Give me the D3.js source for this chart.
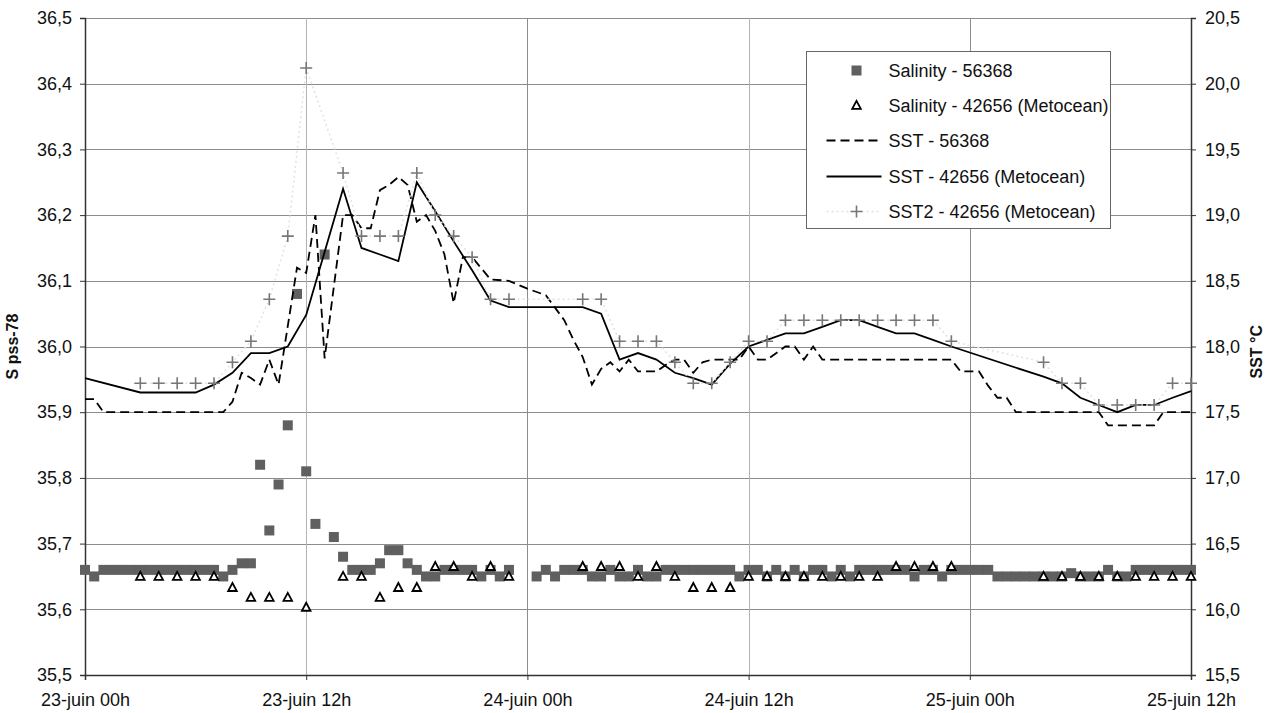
<!DOCTYPE html>
<html>
<head>
<meta charset="utf-8">
<script src="https://cdn.jsdelivr.net/npm/d3@7"></script>
<style>
  body { margin: 0; background: #fff; }
  svg { font-family: "Liberation Sans", Arial, Helvetica, sans-serif; }
</style>
</head>
<body>
<script>
// ---- data (hours counted from 23-juin 00h) ----

// Salinity - 56368, one value every 30 minutes, 00h .. 60h (null = missing)
var sal56368 = [
  35.66,35.65,35.66,35.66,35.66,35.66,35.66,35.66,35.66,35.66,35.66,35.66, // 00h-05h30
  35.66,35.66,35.66,35.65,35.66,35.67,35.67,35.82,35.72,35.79,35.88,36.08, // 06h-11h30
  35.81,35.73,36.14,35.71,35.68,35.66,35.66,35.66,35.67,35.69,35.69,35.67, // 12h-17h30
  35.66,35.65,35.65,35.66,35.66,35.66,35.66,35.65,35.66,35.65,35.66,null,  // 18h-23h30
  null, 35.65,35.66,35.65,35.66,35.66,35.66,35.65,35.65,35.66,35.65,35.65, // 24h-29h30
  35.66,35.65,35.65,35.66,35.66,35.66,35.66,35.66,35.66,35.66,35.66,35.65, // 30h-35h30
  35.66,35.66,35.65,35.66,35.65,35.66,35.65,35.66,35.66,35.65,35.66,35.65, // 36h-41h30
  35.66,35.66,35.66,35.66,35.66,35.66,35.65,35.66,35.66,35.65,35.66,35.66, // 42h-47h30
  35.66,35.66,35.66,35.65,35.65,35.65,35.65,35.65,35.65,35.65,35.65,35.655,// 48h-53h30
  35.65,35.65,35.65,35.66,35.65,35.65,35.66,35.66,35.66,35.66,35.66,35.66, // 54h-59h30
  35.66                                                                    // 60h
];

// Salinity - 42656 (Metocean), hourly with gaps
var sal42656Hours = [3,4,5,6,7,8,9,10,11,12,14,15,16,17,18,19,20,21,22,23,
  27,28,29,30,31,32,33,34,35,36,37,38,39,40,41,42,43,44,45,46,47,
  52,53,54,55,56,57,58,59,60];
var sal42656 = [35.65,35.65,35.65,35.65,35.65,35.633,35.618,35.618,35.618,35.603,
  35.65,35.65,35.618,35.633,35.633,35.665,35.665,35.65,35.665,35.65,
  35.665,35.665,35.665,35.65,35.665,35.65,35.633,35.633,35.633,35.65,35.65,35.65,35.65,35.65,35.65,35.65,35.65,
  35.665,35.665,35.665,35.665,
  35.65,35.65,35.65,35.65,35.65,35.65,35.65,35.65,35.65];

// SST - 56368 (dashed)
var sst56368Hours = [0,0.5,1,7.5,8,8.5,9,9.5,10,10.5,11.5,12,12.5,13,14,14.5,15,15.5,16,16.5,17,17.5,18,18.5,19,19.5,20,20.5,21,22,23,
  24,25,26,26.5,27,27.5,28,28.5,29,29.5,30,31,31.5,32,32.5,33,33.5,34,35.5,36,36.5,37,38,38.5,39,39.5,40,
  47,47.5,48.5,49,49.5,50,50.5,55,55.5,58,58.5,60];
var sst56368 = [17.60,17.60,17.50,17.50,17.58,17.80,17.76,17.71,17.90,17.71,18.60,18.56,19.00,17.91,19.00,19.00,18.90,18.90,19.19,19.23,19.29,19.23,18.95,19.00,18.88,18.70,18.33,18.68,18.68,18.51,18.50,
  18.44,18.39,18.20,18.05,17.92,17.71,17.83,17.88,17.81,17.90,17.81,17.81,17.86,17.90,17.90,17.80,17.88,17.90,17.90,18.00,17.90,17.90,18.00,18.00,17.90,18.00,17.90,
  17.90,17.81,17.81,17.70,17.61,17.61,17.50,17.50,17.40,17.40,17.50,17.50];

// SST - 42656 (Metocean) (solid)
var sst42656Hours = [0,3,4,5,6,7,8,9,10,11,12,14,15,16,17,18,19,20,21,22,23,
  27,28,29,30,31,32,33,34,35,36,37,38,39,40,41,42,43,44,45,46,47,
  52,53,54,55,56,57,58,59,60];
var sst42656 = [17.76,17.65,17.65,17.65,17.65,17.71,17.80,17.95,17.95,18.00,18.24,19.20,18.75,18.70,18.65,19.25,19.03,18.80,18.58,18.35,18.30,
  18.30,18.25,17.90,17.95,17.90,17.80,17.76,17.71,17.87,18.00,18.05,18.10,18.10,18.15,18.20,18.20,18.15,18.10,18.10,18.05,18.00,
  17.77,17.72,17.61,17.555,17.50,17.555,17.555,17.61,17.66];

// SST2 - 42656 (Metocean) (+ markers)
var sst2Hours = [3,4,5,6,7,8,9,10,11,12,14,15,16,17,18,19,20,21,22,23,
  27,28,29,30,31,32,33,34,35,36,37,38,39,40,41,42,43,44,45,46,47,
  52,53,54,55,56,57,58,59,60];
var sst2 = [17.72,17.72,17.72,17.72,17.72,17.88,18.04,18.36,18.84,20.12,19.32,18.84,18.84,18.84,19.32,19.00,18.84,18.68,18.36,18.36,
  18.36,18.36,18.04,18.04,18.04,17.88,17.72,17.72,17.88,18.04,18.04,18.20,18.20,18.20,18.20,18.20,18.20,18.20,18.20,18.20,18.04,
  17.88,17.72,17.72,17.555,17.555,17.555,17.555,17.72,17.72];

var leftTicks = [35.5,35.6,35.7,35.8,35.9,36.0,36.1,36.2,36.3,36.4,36.5];
var rightTicks = [15.5,16.0,16.5,17.0,17.5,18.0,18.5,19.0,19.5,20.0,20.5];

var legendLabels = ["Salinity - 56368", "Salinity - 42656 (Metocean)", "SST - 56368",
  "SST - 42656 (Metocean)", "SST2 - 42656 (Metocean)"];

// ---- chart ----
var width = 1266, height = 713;
var margin = {left: 85, right: 75, top: 18, bottom: 38};
var w = width - margin.left - margin.right;
var h = height - margin.top - margin.bottom;

var t0 = new Date(2000, 5, 23, 0, 0);
function toDate(hr) { return new Date(t0.getTime() + hr * 3600000); }

var x = d3.scaleTime().domain([t0, toDate(60)]).range([0, w]);
var yL = d3.scaleLinear().domain([35.5, 36.5]).range([h, 0]);
var yR = d3.scaleLinear().domain([15.5, 20.5]).range([h, 0]);

var fr = d3.formatLocale({decimal: ",", thousands: " ", grouping: [3], currency: ["", " €"]});
var f1 = fr.format(".1f");

var svg = d3.select("body").append("svg").attr("width", width).attr("height", height);
var g = svg.append("g").attr("transform", "translate(" + margin.left + "," + margin.top + ")");

// grid
g.append("g").selectAll("line").data(leftTicks).join("line")
  .attr("x1", 0).attr("x2", w)
  .attr("y1", function(d){ return Math.round(yL(d)) + 0.5; })
  .attr("y2", function(d){ return Math.round(yL(d)) + 0.5; })
  .attr("stroke", "#8c8c8c").attr("stroke-width", 1);

var xTicks = x.ticks(d3.timeHour.every(12));
g.append("g").selectAll("line").data(xTicks).join("line")
  .attr("x1", function(d){ return Math.round(x(d)) + 0.5; })
  .attr("x2", function(d){ return Math.round(x(d)) + 0.5; })
  .attr("y1", 0).attr("y2", h)
  .attr("stroke", function(d){ return d.getHours() === 0 ? "#8c8c8c" : "#b4b4b4"; })
  .attr("stroke-width", 1);

// axes
var xAxis = d3.axisBottom(x).tickValues(xTicks).tickSize(5).tickPadding(13)
  .tickFormat(function(d){ return d3.timeFormat("%d")(d) + "-juin " + d3.timeFormat("%H")(d) + "h"; });
var gx = g.append("g").attr("transform", "translate(0," + h + ")").call(xAxis);

var gl = g.append("g").call(d3.axisLeft(yL).tickValues(leftTicks).tickSize(5).tickPadding(8).tickFormat(f1));
var gr = g.append("g").attr("transform", "translate(" + w + ",0)")
  .call(d3.axisRight(yR).tickValues(rightTicks).tickSize(5).tickPadding(9).tickFormat(f1));

[gx, gl, gr].forEach(function(a){
  a.select(".domain").attr("stroke", "#333").attr("stroke-width", 1.5);
  a.selectAll(".tick line").attr("stroke", "#333");
  a.selectAll(".tick text").attr("fill", "#111").attr("font-size", 18)
    .attr("font-family", "'Liberation Sans', Arial, sans-serif");
});

// axis titles
svg.append("text").attr("transform", "translate(18," + (margin.top + yL(36.0)) + ") rotate(-90)")
  .attr("text-anchor", "middle").attr("font-size", 16).attr("font-weight", "bold").attr("fill", "#111")
  .text("S pss-78");
svg.append("text").attr("transform", "translate(1262," + (margin.top + yR(17.96)) + ") rotate(-90)")
  .attr("text-anchor", "middle").attr("font-size", 16).attr("font-weight", "bold").attr("fill", "#111")
  .text("SST °C");

// Salinity - 56368 squares
var salPts = sal56368.map(function(v, i){ return {t: toDate(i * 0.5), v: v}; })
  .filter(function(d){ return d.v !== null; });
g.append("g").selectAll("rect").data(salPts).join("rect")
  .attr("x", function(d){ return x(d.t) - 5; })
  .attr("y", function(d){ return yL(d.v) - 5; })
  .attr("width", 10).attr("height", 10)
  .attr("fill", "#606060");

// Salinity - 42656 triangles
var triPath = "M0,-4.6L4.3,3.4L-4.3,3.4Z";
g.append("g").selectAll("path").data(sal42656Hours).join("path")
  .attr("transform", function(d, i){ return "translate(" + x(toDate(d)) + "," + yL(sal42656[i]) + ")"; })
  .attr("d", triPath).attr("fill", "#fff").attr("stroke", "#000").attr("stroke-width", 1.8);

function series(hours, vals) {
  return hours.map(function(hr, i){ return [toDate(hr), vals[i]]; });
}
var line = d3.line().x(function(d){ return x(d[0]); }).y(function(d){ return yR(d[1]); });

// SST - 56368 dashed
g.append("path").attr("d", line(series(sst56368Hours, sst56368)))
  .attr("fill", "none").attr("stroke", "#000").attr("stroke-width", 1.8)
  .attr("stroke-dasharray", "9,5");

// SST - 42656 solid
g.append("path").attr("d", line(series(sst42656Hours, sst42656)))
  .attr("fill", "none").attr("stroke", "#000").attr("stroke-width", 1.8);

// SST2 - 42656 faint dotted line + plus markers
var sst2Data = series(sst2Hours, sst2);
g.append("path").attr("d", line(sst2Data))
  .attr("fill", "none").attr("stroke", "#e2e2e2").attr("stroke-width", 1.5)
  .attr("stroke-dasharray", "2,3");
var plusPath = "M-6,0H6M0,-6V6";
g.append("g").selectAll("path").data(sst2Data).join("path")
  .attr("transform", function(d){ return "translate(" + x(d[0]) + "," + yR(d[1]) + ")"; })
  .attr("d", plusPath).attr("stroke", "#777").attr("stroke-width", 1.6);

// legend
var lg = svg.append("g").attr("transform", "translate(806.5,51.5)");
lg.append("rect").attr("width", 304).attr("height", 177)
  .attr("fill", "#fff").attr("stroke", "#666").attr("stroke-width", 1);
var rowY = [19, 54, 89, 125, 160];
var sx = 50, tx = 82;
lg.selectAll("text").data(legendLabels).join("text")
  .attr("x", tx).attr("y", function(d, i){ return rowY[i]; })
  .attr("dy", "0.35em").attr("font-size", 18).attr("fill", "#111")
  .text(function(d){ return d; });
lg.append("rect").attr("x", sx - 5).attr("y", rowY[0] - 5).attr("width", 10).attr("height", 10).attr("fill", "#606060");
lg.append("path").attr("transform", "translate(" + sx + "," + rowY[1] + ")").attr("d", triPath)
  .attr("fill", "#fff").attr("stroke", "#000").attr("stroke-width", 1.8);
lg.append("line").attr("x1", 20).attr("x2", 75).attr("y1", rowY[2]).attr("y2", rowY[2])
  .attr("stroke", "#000").attr("stroke-width", 1.8).attr("stroke-dasharray", "9,5");
lg.append("line").attr("x1", 20).attr("x2", 75).attr("y1", rowY[3]).attr("y2", rowY[3])
  .attr("stroke", "#000").attr("stroke-width", 1.8);
lg.append("line").attr("x1", 20).attr("x2", 75).attr("y1", rowY[4]).attr("y2", rowY[4])
  .attr("stroke", "#e2e2e2").attr("stroke-width", 1.5).attr("stroke-dasharray", "2,3");
lg.append("path").attr("transform", "translate(" + sx + "," + rowY[4] + ")").attr("d", plusPath)
  .attr("stroke", "#777").attr("stroke-width", 1.6);
</script>
</body>
</html>
